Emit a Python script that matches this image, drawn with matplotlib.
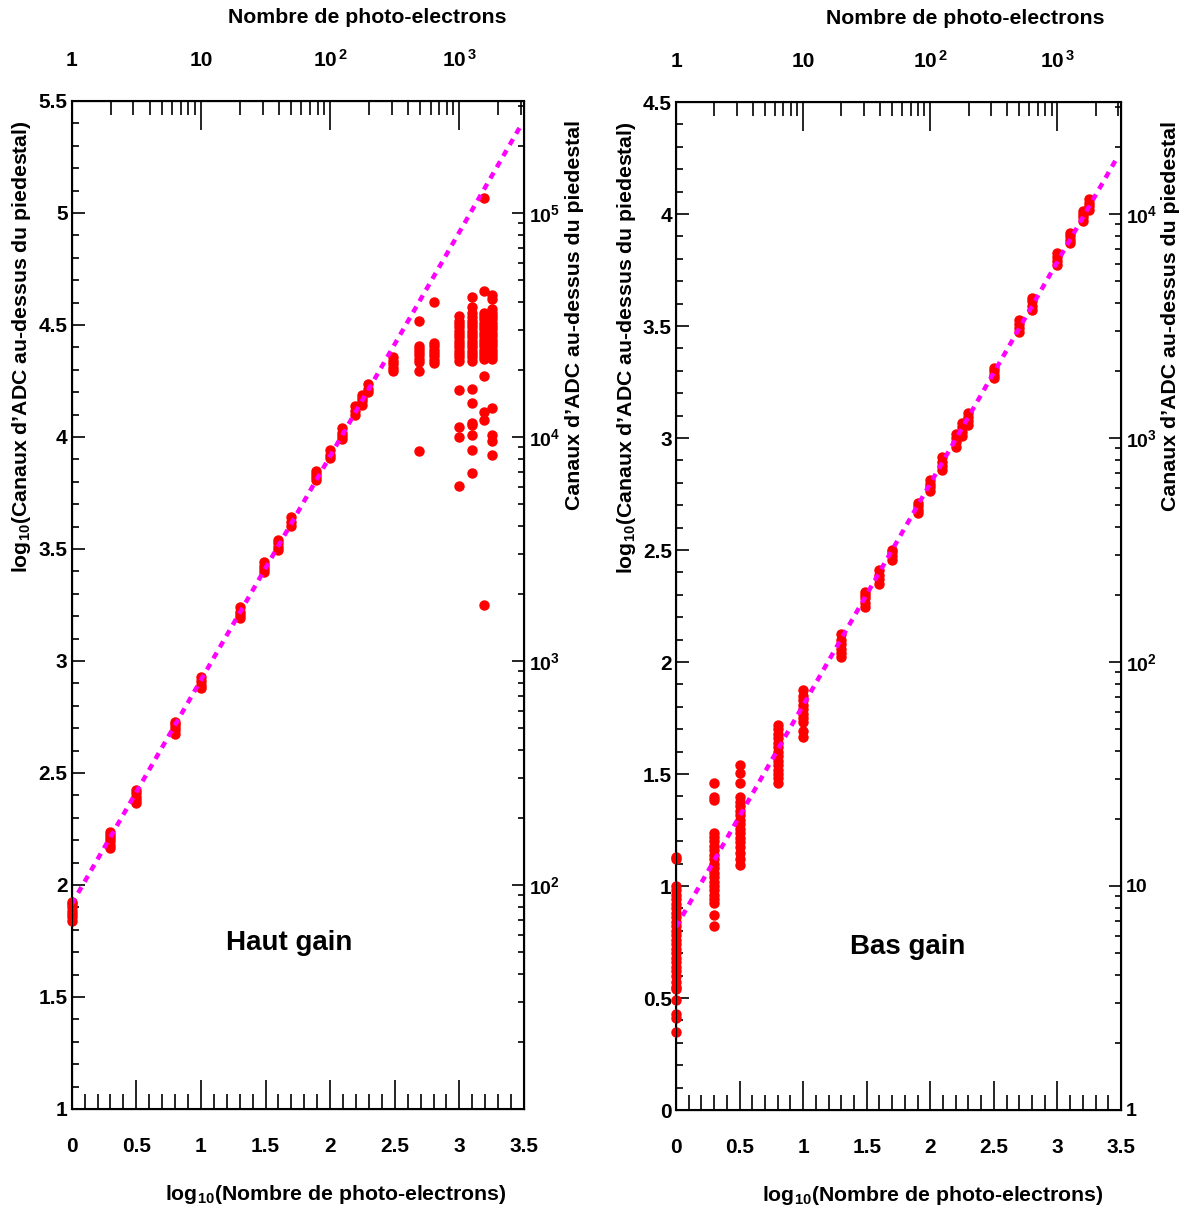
import numpy as np
import matplotlib
matplotlib.use('Agg')
import matplotlib.pyplot as plt
from matplotlib.ticker import (MultipleLocator, FixedLocator, FixedFormatter,
                               LogLocator, NullFormatter, FormatStrFormatter)

plt.rcParams['font.family'] = ['Liberation Sans', 'DejaVu Sans']
plt.rcParams['font.weight'] = 'bold'
plt.rcParams['mathtext.fontset'] = 'custom'
plt.rcParams['mathtext.rm'] = 'Liberation Sans:bold'
plt.rcParams['mathtext.bf'] = 'Liberation Sans:bold'
plt.rcParams['mathtext.it'] = 'Liberation Sans:bold'
plt.rcParams['mathtext.default'] = 'rm'

# ---------------- data : high gain (Haut gain) ----------------
hg_logx = [0.0, 0.30, 0.50, 0.80, 1.00, 1.30, 1.49, 1.60, 1.70, 1.89, 2.00,
           2.09, 2.19, 2.25, 2.29, 2.49, 2.69, 2.80, 3.00, 3.10, 3.19, 3.25]
hg_logy = [
    [1.84, 1.855, 1.87, 1.885, 1.90, 1.915, 1.925],
    [2.165, 2.18, 2.195, 2.21, 2.225, 2.237],
    [2.366, 2.38, 2.395, 2.41, 2.424],
    [2.674, 2.69, 2.705, 2.72, 2.729],
    [2.88, 2.895, 2.91, 2.93],
    [3.193, 3.205, 3.22, 3.241],
    [3.398, 3.41, 3.425, 3.44],
    [3.494, 3.51, 3.525, 3.539],
    [3.603, 3.62, 3.641],
    [3.807, 3.82, 3.835, 3.846],
    [3.906, 3.92, 3.94],
    [3.993, 4.005, 4.02, 4.042],
    [4.10, 4.115, 4.138],
    [4.145, 4.16, 4.175, 4.189],
    [4.201, 4.215, 4.237],
    [4.296, 4.31, 4.325, 4.34, 4.359],
    [3.938, 4.296, 4.337, 4.35, 4.365, 4.38, 4.395, 4.408, 4.518],
    [4.332, 4.345, 4.36, 4.375, 4.39, 4.405, 4.421, 4.601],
    [3.781, 4.001, 4.046, 4.210, 4.339, 4.355, 4.37, 4.385, 4.40, 4.415, 4.43,
     4.445, 4.46, 4.475, 4.49, 4.505, 4.52, 4.54],
    [3.838, 3.942, 4.008, 4.054, 4.064, 4.150, 4.213, 4.339, 4.355, 4.37, 4.385,
     4.40, 4.415, 4.43, 4.445, 4.46, 4.475, 4.49, 4.505, 4.52, 4.537, 4.555,
     4.582, 4.627],
    [3.25, 4.076, 4.113, 4.272, 4.347, 4.36, 4.375, 4.39, 4.405, 4.42, 4.435,
     4.45, 4.465, 4.48, 4.495, 4.51, 4.525, 4.54, 4.555, 4.652, 5.068],
    [3.918, 3.982, 4.009, 4.128, 4.347, 4.36, 4.375, 4.39, 4.405, 4.42, 4.435,
     4.45, 4.465, 4.48, 4.495, 4.51, 4.525, 4.54, 4.555, 4.570, 4.616, 4.634],
]
hg_fit = (1.915, 1.0)   # intercept, slope

# ---------------- data : low gain (Bas gain) ----------------
lg_logx = [0.0, 0.30, 0.50, 0.80, 1.00, 1.30, 1.49, 1.60, 1.70, 1.90, 2.00,
           2.09, 2.20, 2.25, 2.30, 2.50, 2.70, 2.80, 3.00, 3.10, 3.20, 3.25]
lg_logy = [
    [0.35, 0.41, 0.43, 0.49, 0.54, 0.55, 0.57, 0.60, 0.62, 0.64, 0.66, 0.68,
     0.70, 0.72, 0.74, 0.76, 0.78, 0.80, 0.82, 0.84, 0.86, 0.88, 0.90, 0.92,
     0.94, 0.96, 0.98, 1.00, 1.12, 1.13],
    [0.822, 0.871, 0.924, 0.94, 0.96, 0.98, 1.00, 1.02, 1.04, 1.06, 1.08, 1.10,
     1.12, 1.14, 1.16, 1.18, 1.20, 1.22, 1.237, 1.384, 1.399, 1.461],
    [1.094, 1.12, 1.146, 1.176, 1.195, 1.215, 1.235, 1.255, 1.275, 1.295, 1.315,
     1.335, 1.355, 1.375, 1.399, 1.459, 1.506, 1.54],
    [1.459, 1.48, 1.50, 1.52, 1.54, 1.56, 1.58, 1.60, 1.62, 1.64, 1.66, 1.68,
     1.70, 1.719],
    [1.665, 1.69, 1.73, 1.75, 1.77, 1.79, 1.81, 1.83, 1.85, 1.875],
    [2.023, 2.04, 2.06, 2.08, 2.10, 2.124],
    [2.246, 2.265, 2.285, 2.30, 2.313],
    [2.35, 2.37, 2.39, 2.409],
    [2.457, 2.475, 2.49, 2.502],
    [2.664, 2.68, 2.695, 2.708],
    [2.765, 2.78, 2.795, 2.812],
    [2.857, 2.875, 2.895, 2.916],
    [2.961, 2.98, 3.00, 3.018],
    [3.009, 3.028, 3.047, 3.066],
    [3.058, 3.075, 3.095, 3.113],
    [3.267, 3.283, 3.30, 3.314],
    [3.472, 3.49, 3.51, 3.527],
    [3.571, 3.59, 3.61, 3.624],
    [3.772, 3.79, 3.81, 3.825],
    [3.869, 3.885, 3.90, 3.917],
    [3.970, 3.985, 4.00, 4.013],
    [4.018, 4.035, 4.05, 4.066],
]
lg_fit = (0.817, 0.990)

bottom_ticks = [0, 0.5, 1, 1.5, 2, 2.5, 3, 3.5]
top_tick_vals = [1, 10, 100, 1000]
top_tick_labels = ['1', '10', r'$10^{\,2}$', r'$10^{\,3}$']

hg_right_vals = [10, 100, 1000, 1e4, 1e5]
hg_right_labels = ['', r'$10^{2}$', r'$10^{3}$', r'$10^{4}$', r'$10^{5}$']
lg_right_vals = [1, 10, 100, 1000, 1e4]
lg_right_labels = ['1', '10', r'$10^{2}$', r'$10^{3}$', r'$10^{4}$']

xlabel = r'log$_{10}$(Nombre de photo-electrons)'
toplabel = 'Nombre de photo-electrons'
ylabel = r'log$_{10}$(Canaux d’ADC au-dessus du piedestal)'
rylabel = 'Canaux d’ADC au-dessus du piedestal'

W, H = 1186, 1214
fig = plt.figure(figsize=(W / 100, H / 100), dpi=100)

LS = 15
RLS = 14
TS = 15.3


def panel(rect, logx, logy, fit, ylim, rvals, rlabels, name, name_pos):
    ax = fig.add_axes(rect)
    xs = np.concatenate([np.full(len(v), x) for x, v in zip(logx, logy)])
    ys = np.concatenate([np.asarray(v, float) for v in logy])
    ax.plot(xs, ys, 'o', color='#ff0000', mec='#ff0000', ms=6.5, ls='none',
            zorder=3, clip_on=False)
    xf = np.array([0.0, 3.47])
    ax.plot(xf, fit[0] + fit[1] * xf, color='#ff00ff', lw=3.2,
            ls=(0, (1.5, 1.4)), zorder=4)
    ax.set_xlim(0, 3.5)
    ax.set_ylim(*ylim)
    ax.xaxis.set_major_locator(FixedLocator(bottom_ticks))
    ax.xaxis.set_major_formatter(FormatStrFormatter('%g'))
    ax.xaxis.set_minor_locator(MultipleLocator(0.1))
    ax.yaxis.set_major_locator(MultipleLocator(0.5))
    ax.yaxis.set_major_formatter(FormatStrFormatter('%g'))
    ax.yaxis.set_minor_locator(MultipleLocator(0.1))
    ax.tick_params(axis='x', which='major', direction='in', length=21, width=1.2,
                   pad=20, labelsize=LS, top=False)
    ax.tick_params(axis='x', which='minor', direction='in', length=10.5, width=1.2,
                   top=False)
    ax.tick_params(axis='y', which='major', direction='in', length=9.5, width=1.2,
                   pad=3, labelsize=LS, right=False)
    ax.tick_params(axis='y', which='minor', direction='in', length=5, width=1.2,
                   right=False)
    for s in ax.spines.values():
        s.set_linewidth(1.5)

    axt = ax.twiny()
    axt.set_xscale('log')
    axt.set_xlim(1, 10 ** 3.5)
    axt.xaxis.set_major_locator(FixedLocator(top_tick_vals))
    axt.xaxis.set_major_formatter(FixedFormatter(top_tick_labels))
    axt.xaxis.set_minor_locator(LogLocator(base=10, subs=np.arange(2, 10), numticks=30))
    axt.xaxis.set_minor_formatter(NullFormatter())
    axt.tick_params(axis='x', which='major', direction='in', length=21, width=1.2,
                    pad=22, labelsize=LS)
    axt.tick_params(axis='x', which='minor', direction='in', length=10, width=1.2)

    axr = ax.twinx()
    axr.set_yscale('log')
    axr.set_ylim(10 ** ylim[0], 10 ** ylim[1])
    axr.yaxis.set_major_locator(FixedLocator(rvals))
    axr.yaxis.set_major_formatter(FixedFormatter(rlabels))
    axr.yaxis.set_minor_locator(LogLocator(base=10, subs=np.arange(2, 10), numticks=30))
    axr.yaxis.set_minor_formatter(NullFormatter())
    axr.tick_params(axis='y', which='major', direction='in', length=9, width=1.2,
                    pad=3.5, labelsize=RLS)
    axr.tick_params(axis='y', which='minor', direction='in', length=4.5, width=1.2)

    ax.text(0.962, -0.085, xlabel, transform=ax.transAxes, ha='right',
            va='center', fontsize=TS, fontweight='bold')
    ax.text(0.962, 1.083, toplabel, transform=ax.transAxes, ha='right',
            va='center', fontsize=TS, fontweight='bold')
    ax.text(-0.112, 0.981, ylabel, transform=ax.transAxes, ha='center',
            va='top', rotation=90, fontsize=TS, fontweight='bold')
    ax.text(1.112, 0.981, rylabel, transform=ax.transAxes, ha='center',
            va='top', rotation=90, fontsize=TS, fontweight='bold')
    ax.text(name_pos[0], name_pos[1], name, transform=ax.transAxes, ha='center',
            va='center', fontsize=20, fontweight='bold')
    return ax


panel([71.7 / W, 1 - 1109 / H, 452.3 / W, 1008 / H], hg_logx, hg_logy, hg_fit,
      (1, 5.5), hg_right_vals, hg_right_labels, 'Haut gain', (0.48, 0.165))
panel([676 / W, 1 - 1110 / H, 445 / W, 1008 / H], lg_logx, lg_logy, lg_fit,
      (0, 4.5), lg_right_vals, lg_right_labels, 'Bas gain', (0.521, 0.162))

fig.savefig('out.png', dpi=100)
